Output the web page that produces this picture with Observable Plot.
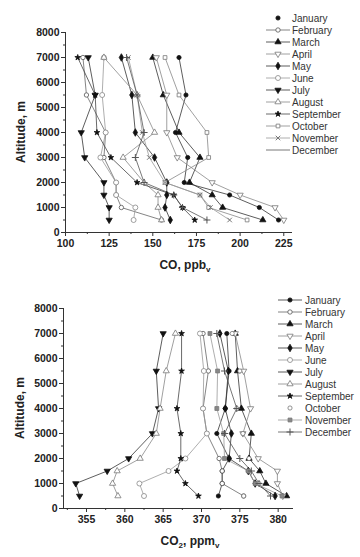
<!DOCTYPE html>
<html><head><meta charset="utf-8">
<script src="https://cdn.jsdelivr.net/npm/d3@7"></script>
<script src="https://cdn.jsdelivr.net/npm/@observablehq/plot@0.6"></script>
<style>
body{margin:0;background:#fff;}
#wrap{width:360px;}
svg{display:block;}
</style></head><body><div id="wrap"></div>
<script>
// ---------- data ----------
const months = ["January","February","March","April","May","June","July","August","September","October","November","December"];
const altitudes = [500, 1000, 1500, 2000, 3000, 4000, 5500, 7000];

// CO, ppbv (per month, same order as altitudes)
const coJan = [222, 211, 194, 168, 170, 163, 169, 165];
const coFeb = [155, 132, 129, 129, 122, 123, 112, 110];
const coMar = [213, 190, 184, 171, 177, 165, 156, 150];
const coApr = [225, 220, 200, 184, 164, 158, 158, 152];
const coMay = [160, 157, 158, 158, 151, 140, 138, 132];
const coJun = [139, 140, 129, 129, 120, 123, 121, 122];
const coJul = [125, 125, 122, 122, 111, 109, 117, 113];
const coAug = [155, 153, 153, 145, 133, 151, 141, 122];
const coSep = [174, 167, 162, 141, 126, 118, 117, 107];
const coOct = [204, 182, 177, 157, 182, 181, 165, 157];
const coNov = [194, 183, 177, 157, 148, 144, 141, 136];
const coDec = [181, 167, 162, 145, 140, 145, 141, 135];

// CO2, ppmv
const co2Jan = [372.2, 372.7, 372.7, 373.6, 372.0, 373.1, 373.6, 373.3];
const co2Feb = [375.5, 372.7, 372.7, 372.3, 370.7, 370.2, 370.9, 370.2];
const co2Mar = [381.1, 378.4, 377.6, 376.2, 376.5, 375.2, 374.7, 374.4];
const co2Apr = [380.6, 379.9, 379.9, 377.4, 375.4, 376.4, 375.5, 374.4];
const co2May = [379.6, 377.0, 376.1, 373.6, 373.9, 373.1, 373.5, 372.4];
const co2Jun = [362.5, 361.9, 365.7, 367.9, 370.7, 370.2, 370.3, 369.8];
const co2Jul = [354.1, 353.6, 357.7, 360.5, 363.6, 364.4, 364.1, 365.0];
const co2Aug = [359.1, 358.4, 359.0, 362.0, 364.1, 364.6, 365.4, 366.6];
const co2Sep = [369.6, 367.9, 366.8, 367.3, 367.3, 366.8, 367.4, 367.4];
const co2Oct = [375.5, 377.5, 376.1, 376.2, 375.4, 374.6, 375.0, 374.0];
const co2Nov = [380.5, 377.0, 376.1, 373.0, 372.9, 372.0, 372.1, 371.1];
const co2Dec = [379.0, 377.5, 376.5, 375.0, 373.0, 374.6, 373.0, 372.0];

const yTicks = [0, 1000, 2000, 3000, 4000, 5000, 6000, 7000, 8000];
const coTicks = [100, 125, 150, 175, 200, 225];
const co2Ticks = [355, 360, 365, 370, 375, 380];

// ---------- styles ----------
const triDown = {draw(ctx, size){ const s3 = Math.sqrt(3); const y = -Math.sqrt(size/(s3*3));
  ctx.moveTo(0, -y*2); ctx.lineTo(-s3*y, y); ctx.lineTo(s3*y, y); ctx.closePath(); }};
const symbols = [d3.symbolCircle, d3.symbolCircle, d3.symbolTriangle, triDown, d3.symbolDiamond, d3.symbolCircle,
                 triDown, d3.symbolTriangle, d3.symbolStar, d3.symbolSquare, d3.symbolTimes, d3.symbolPlus];
const symbols2 = [d3.symbolCircle, d3.symbolCircle, d3.symbolTriangle, triDown, d3.symbolDiamond, d3.symbolCircle,
                 triDown, d3.symbolTriangle, d3.symbolStar, d3.symbolCircle, d3.symbolSquare, d3.symbolPlus];
const markFill = ["#111","#fff","#111","#fff","#111","#fff","#111","#fff","#111","#fff","none","none"];
const markFill2 = ["#111","#fff","#111","#fff","#111","#fff","#111","#fff","#111","#fff","#888","none"];
const markStroke = ["#111","#555","#111","#777","#111","#888","#111","#777","#111","#777","#777","#555"];
const lineColor = ["#333","#666","#333","#888","#333","#999","#333","#888","#444","#888","#999","#555"];
const markR = [2.1,2.2,2.3,2.3,2.3,2.5,2.3,2.3,1.8,2.1,2.2,2.4];

function rowsFor(arrs){
  return arrs.map((vals, i) => altitudes.map((a, j) => ({month: months[i], alt: a, v: vals[j]})));
}

function makeChart(cfg){
  const series = rowsFor(cfg.values);
  const marks = [
    Plot.ruleX([cfg.xDomain[0]], {stroke: "#333", strokeWidth: 1}),
    Plot.ruleY([0], {stroke: "#333", strokeWidth: 1}),
    Plot.axisY({ticks: yTicks, tickSize: 4, tickPadding: 2, tickFormat: d => String(d), fontWeight: "bold", fontSize: 10.5, label: null, stroke: "#333"}),
    Plot.axisY({ticks: d3.range(500, 8000, 1000), tickSize: 2, text: null, label: null, stroke: "#333"}),
    Plot.axisX({ticks: cfg.xTicks, tickSize: 4, tickPadding: 3, tickFormat: d => String(d), fontWeight: "bold", fontSize: 10.5, label: null, stroke: "#333"}),
    Plot.axisX({ticks: cfg.xMinor, tickSize: 2, text: null, label: null, stroke: "#333"})
  ];
  series.forEach((rows, i) => {
    if (cfg.lines[i]) marks.push(Plot.line(rows, {x: "v", y: "alt", stroke: lineColor[i], strokeWidth: 0.8}));
  });
  series.forEach((rows, i) => {
    const stroked = cfg.fills[i] === "none";
    marks.push(Plot.dot(rows, {x: "v", y: "alt", symbol: cfg.symbols[i], r: markR[i],
      fill: cfg.fills[i], stroke: markStroke[i], strokeWidth: stroked ? 1 : 0.8}));
  });
  const svg = Plot.plot({
    width: 360, height: cfg.height,
    marginLeft: cfg.ml, marginRight: cfg.mr, marginTop: cfg.mt, marginBottom: cfg.mb,
    x: {domain: cfg.xDomain, axis: null},
    y: {domain: [0, 8000], axis: null},
    style: {fontFamily: "'Liberation Sans', Arial, sans-serif", color: "#222", background: "#fff", overflow: "visible"},
    marks
  });
  const s = d3.select(svg);
  const ff = "'Liberation Sans', Arial, sans-serif";
  // axis titles
  s.append("text").attr("transform", `translate(${cfg.ytx},${cfg.yty}) rotate(-90)`)
    .attr("text-anchor", "middle").attr("font-size", 12).attr("font-weight", "bold")
    .attr("fill", "#222").attr("font-family", ff).text("Altitude, m");
  const xt = s.append("text").attr("x", cfg.xtx).attr("y", cfg.xty)
    .attr("text-anchor", "middle").attr("font-size", 12).attr("font-weight", "bold")
    .attr("fill", "#222").attr("font-family", ff);
  let shifted = false;
  cfg.xTitle.forEach(([t, sub]) => {
    const ts = xt.append("tspan").text(t);
    if (sub) { ts.attr("font-size", 8).attr("dy", 3); shifted = true; }
    else if (shifted) { ts.attr("dy", -3); shifted = false; }
  });
  // legend
  const g = s.append("g").attr("font-family", ff).attr("text-anchor", "start");
  months.forEach((m, i) => {
    const y = cfg.lg.y0 + i * cfg.lg.dy;
    if (cfg.lg.line[i]) g.append("line").attr("x1", cfg.lg.x1).attr("x2", cfg.lg.x2).attr("y1", y).attr("y2", y)
      .attr("stroke", lineColor[i]).attr("stroke-width", 0.8);
    if (cfg.lg.sym[i]) {
      const stroked = cfg.fills[i] === "none";
      g.append("path").attr("d", d3.symbol(cfg.symbols[i], Math.PI * markR[i] * markR[i])())
        .attr("transform", `translate(${cfg.lg.xs},${y})`)
        .attr("fill", cfg.fills[i]).attr("stroke", markStroke[i]).attr("stroke-width", stroked ? 1 : 0.8);
    }
    g.append("text").attr("x", cfg.lg.xt).attr("y", y).attr("dy", "0.35em").attr("text-anchor", "start")
      .attr("font-size", 10).attr("fill", "#333").text(m);
  });
  return svg;
}

const wrap = document.getElementById("wrap");
wrap.appendChild(makeChart({
  values: [coJan, coFeb, coMar, coApr, coMay, coJun, coJul, coAug, coSep, coOct, coNov, coDec],
  height: 278, ml: 65, mr: 68, mt: 32, mb: 46,
  xDomain: [100, 230], xTicks: coTicks, xMinor: d3.range(112.5, 230, 25),
  symbols: symbols, fills: markFill,
  lines: months.map(() => true),
  ytx: 25, yty: 132, xtx: 185, xty: 269,
  xTitle: [["CO, ppb", false], ["v", true]],
  lg: {y0: 18, dy: 12, x1: 266, x2: 290, xs: 278, xt: 292,
       line: months.map((m, i) => i !== 0), sym: months.map((m, i) => i !== 11)}
}));
wrap.appendChild(makeChart({
  values: [co2Jan, co2Feb, co2Mar, co2Apr, co2May, co2Jun, co2Jul, co2Aug, co2Sep, co2Oct, co2Nov, co2Dec],
  height: 279, ml: 63, mr: 67, mt: 30, mb: 49,
  xDomain: [352, 382], xTicks: co2Ticks, xMinor: d3.range(352.5, 382, 5),
  symbols: symbols2, fills: markFill2,
  lines: months.map((m, i) => i !== 9),
  ytx: 24, yty: 130, xtx: 190, xty: 267,
  xTitle: [["CO", false], ["2", true], [", ppm", false], ["v", true]],
  lg: {y0: 22, dy: 12, x1: 278, x2: 302, xs: 290, xt: 305,
       line: months.map((m, i) => i !== 9), sym: months.map(() => true)}
}));
</script></body></html>
